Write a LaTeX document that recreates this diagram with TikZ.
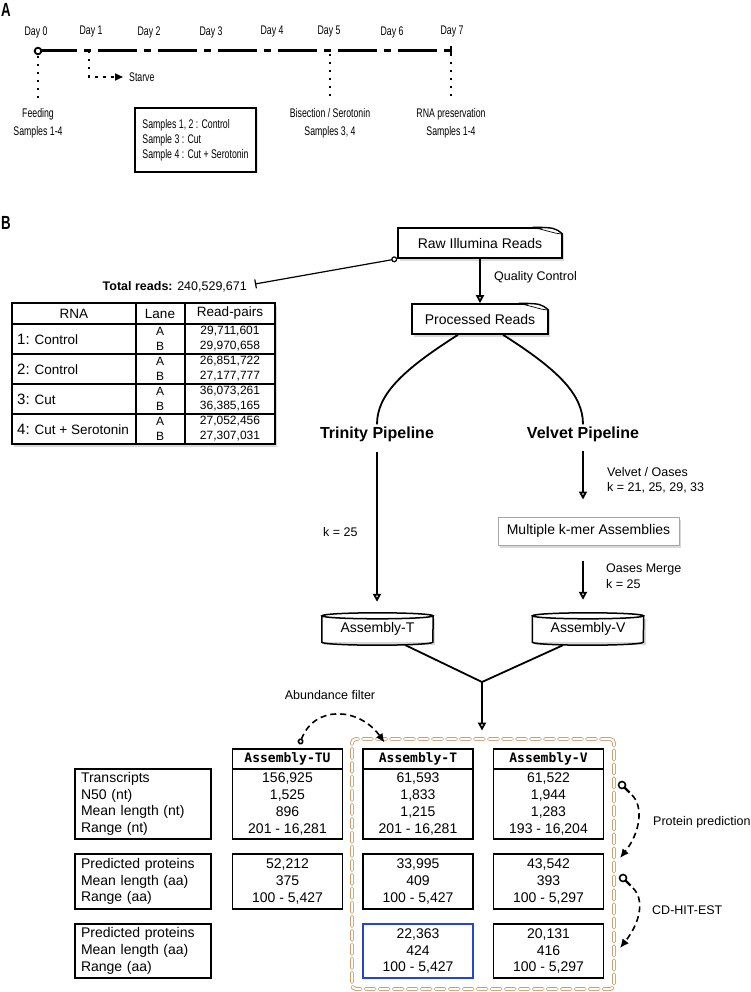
\documentclass[tikz,border=0pt]{standalone}
\usepackage{fontspec}
\setmainfont{Liberation Sans}
\newfontfamily\narrowfont[FakeStretch=0.7]{Liberation Sans}
\newfontfamily\asmfont{DejaVu Sans Mono}
\usetikzlibrary{arrows.meta,shadows,calc}
\definecolor{tanline}{RGB}{198,160,110}
\definecolor{pickblue}{RGB}{35,70,205}
\tikzset{
  paneltag/.style={font=\narrowfont\bfseries\fontsize{19}{19}\selectfont, anchor=west, inner sep=0pt},
  daytxt/.style={font=\narrowfont\fontsize{12.5}{18}\selectfont, align=center, inner sep=0pt},
  annot/.style={font=\fontsize{12.5}{15.5}\selectfont, align=left, inner sep=0pt},
  softshadow/.style={drop shadow={opacity=.3, shadow xshift=2pt, shadow yshift=-3pt}},
  docbox/.style={draw, line width=1.6pt, fill=white, minimum height=30pt, font=\fontsize{14}{16}\selectfont, softshadow},
  samplebox/.style={draw, line width=2pt, fill=white, minimum width=121pt, minimum height=64pt, align=left, inner sep=0pt, font=\narrowfont\fontsize{12.5}{15}\selectfont, drop shadow={opacity=.2, shadow xshift=1.5pt, shadow yshift=-1.5pt}},
  timeline/.style={line width=3pt, dash pattern=on 39pt off 7pt on 7pt off 7pt},
  dotline/.style={line width=1.6pt, dash pattern=on 2.5pt off 5.5pt},
  flow/.style={line width=1.8pt, -{Triangle[open, length=8pt, width=8pt]}},
  conn/.style={line width=1.8pt},
  dconn/.style={line width=1.6pt, dash pattern=on 6pt off 4pt},
  pipe/.style={font=\bfseries\fontsize{16}{16}\selectfont, inner sep=2pt},
  cyl/.style={fill=white, minimum width=111pt, minimum height=26pt, inner sep=0pt, font=\fontsize{14}{16}\selectfont, softshadow},
  kmerbox/.style={draw=gray!70, line width=1pt, fill=white, minimum width=181pt, minimum height=28pt, font=\fontsize{14}{16}\selectfont, softshadow},
  tablebox/.style={draw, line width=1.8pt, fill=white, minimum width=263pt, minimum height=141pt, softshadow},
  tblhead/.style={font=\fontsize{13.5}{14}\selectfont, inner sep=0pt},
  tbllbl/.style={font=\fontsize{13.5}{14}\selectfont, inner sep=0pt, anchor=west},
  tblnum/.style={font=\fontsize{12}{12}\selectfont, inner sep=0pt},
  grpbox/.style={draw=tanline, double=white, double distance=2pt, line width=0.9pt, line cap=round, dash pattern=on 9pt off 5pt, rounded corners=4pt, minimum width=262pt, minimum height=250pt},
  hdr/.style={draw, line width=1.5pt, minimum width=110pt, minimum height=20pt, inner sep=0pt, font=\asmfont\bfseries\fontsize{13}{13}\selectfont},
  lblbox/.style={draw, line width=1.5pt, text width=124pt, inner xsep=6pt, inner ysep=0pt, align=left, font=\fontsize{14}{16.7}\selectfont},
  statbox/.style={draw, line width=1.5pt, minimum width=110pt, inner sep=0pt, align=center, font=\fontsize{14}{16.7}\selectfont}
}
\newcommand\dogear[1]{%
  \fill[white] ([xshift=-30pt,yshift=1pt]#1.north east) -- ([xshift=1.2pt,yshift=1pt]#1.north east) -- ([xshift=1.2pt,yshift=-7pt]#1.north east) -- cycle;
  \draw[line width=1.4pt] ([xshift=-30pt]#1.north east) .. controls ([xshift=-8pt,yshift=-0.5pt]#1.north east) .. ([yshift=-7pt]#1.north east);
  \draw[line width=0.7pt] ([xshift=-30pt]#1.north east) -- ([xshift=-7pt,yshift=-6pt]#1.north east) -- ([yshift=-7pt]#1.north east);}
\newcommand\cylrim[1]{%
  \draw[line width=1.5pt] (#1.north west) -- (#1.south west) arc[start angle=180, end angle=360, x radius=55.5pt, y radius=3pt] -- (#1.north east);
  \draw[line width=1.5pt] (#1.north) ellipse [x radius=55.5pt, y radius=3pt];}
\begin{document}
\begin{tikzpicture}[x=1pt,y=-1pt]
\useasboundingbox (0,0) rectangle (750,992);
\node[paneltag] (tagA) at (1,10) {A};
\foreach \d/\x in {0/36,1/91,2/149,3/211,4/272,5/329,6/392,7/452}
  \node[daytxt] (day\d) at (\x,32) {Day \d};
\coordinate (t0) at (38,51);
\coordinate (t1) at (89,51);
\coordinate (t5) at (330,51);
\coordinate (t7) at (451,51);
\draw[timeline] (t0) -- (t7);
\draw[line width=2pt] ($(t7)+(0,-5)$) -- ($(t7)+(0,5)$);
\draw[line width=1.8pt, fill=white] (t0) circle (3.3pt);
\node[daytxt] (feed) at (38,123) {Feeding\\Samples 1-4};
\node[daytxt] (bisect) at (330,123) {Bisection / Serotonin\\Samples 3, 4};
\node[daytxt] (rnapres) at (451,123) {RNA preservation\\Samples 1-4};
\draw[dotline, shorten <=5pt, shorten >=8pt] (t0) -- (t0 |- feed.north);
\draw[dotline, shorten <=3pt, shorten >=8pt] (t5) -- (t5 |- bisect.north);
\draw[dotline, shorten <=3pt, shorten >=8pt] (t7) -- (t7 |- rnapres.north);
\node[daytxt, anchor=west] (starve) at (129,77) {Starve};
\draw[dotline, -{Triangle[length=8pt, width=7pt]}, shorten >=6pt] (t1) |- (starve.west);
\node[samplebox] (smp) at (195.5,140) {Samples 1, 2 : Control\\Sample 3 : Cut\\Sample 4 : Cut + Serotonin};

\node[paneltag] (tagB) at (1,223) {B};
\node[docbox, minimum width=164pt] (raw) at (480,243) {Raw Illumina Reads};
\dogear{raw}
\node[docbox, minimum width=136pt] (proc) at (480,319) {Processed Reads};
\dogear{proc}
\draw[flow] (raw) -- (proc);
\node[annot, anchor=west] (qc) at (494,277) {Quality Control};
\node[annot, anchor=east] (tot) at (247,287) {\textbf{Total reads:} 240,529,671};
\coordinate (totend) at (255,284);
\draw[line width=1.2pt, {Circle[open, length=6pt]}-{Bar[width=9pt]}] (raw.south west) -- (totend);

\node[tablebox] (tbl) at (143.5,373.5) {};
\foreach \x in {136,185} \draw[line width=1.4pt] (\x,303) -- (\x,444);
\foreach \y in {354,384,414} \draw[line width=1.2pt] (12,\y) -- (275,\y);
\draw[line width=1.8pt] (12,324) -- (275,324);
\node[tblhead] (hrna) at (74,313.5) {RNA};
\node[tblhead] (hlane) at (160,313.5) {Lane};
\node[tblhead] (hpairs) at (230,313.5) {Read-pairs};
\foreach \i/\what/\ra/\rb in {1/Control/{29,711,601}/{29,970,658}, 2/Control/{26,851,722}/{27,177,777}, 3/Cut/{36,073,261}/{36,385,165}, 4/Cut + Serotonin/{27,052,456}/{27,307,031}}
{
  \node[tbllbl] (rna\i) at (17,{309+30*\i}) {{\fontsize{15}{15}\selectfont\i:} \what};
  \node[tblnum] (lna\i) at (160,{301+30*\i}) {A};
  \node[tblnum] (lnb\i) at (160,{316+30*\i}) {B};
  \node[tblnum] (rpa\i) at (230,{301+30*\i}) {\ra};
  \node[tblnum] (rpb\i) at (230,{316+30*\i}) {\rb};
}

\node[pipe] (trin) at (377,434) {Trinity Pipeline};
\node[pipe] (velv) at (583,434) {Velvet Pipeline};
\draw[conn] ([xshift=-22pt]proc.south) .. controls +(-55,35) and +(0,-30) .. (trin.north);
\draw[conn] ([xshift=23pt]proc.south) .. controls +(55,35) and +(0,-30) .. (velv.north);
\node[cyl] (asmT) at (377.5,629) {Assembly-T};
\cylrim{asmT}
\node[cyl] (asmV) at (588,629) {Assembly-V};
\cylrim{asmV}
\node[kmerbox] (kmer) at (588.5,531) {Multiple k-mer Assemblies};
\draw[flow, shorten <=8pt, shorten >=14pt] (trin) -- (trin |- asmT.north);
\node[annot, anchor=west] (ktrin) at (323,532) {k = 25};
\draw[flow, shorten <=7pt, shorten >=17pt] (velv) -- (velv |- kmer.north);
\draw[flow, shorten <=15pt, shorten >=16pt] (velv |- kmer.south) -- (velv |- asmV.north);
\node[annot, anchor=west] (voases) at (607,480.5) {Velvet / Oases\\k = 21, 25, 29, 33};
\node[annot, anchor=west] (omerge) at (606,576) {Oases Merge\\k = 25};

\node[grpbox] (grp) at (483,864) {};
\coordinate (jn) at (482,682);
\draw[conn] ([xshift=28pt,yshift=-3pt]asmT.south) -- (jn);
\draw[conn] ([xshift=-25pt,yshift=-3pt]asmV.south) -- (jn);
\draw[flow, shorten >=8pt] (jn) -- (jn |- grp.north);

\node[hdr] (hTU) at (287.5,759) {Assembly-TU};
\node[hdr] (hT) at (418,759) {Assembly-T};
\node[hdr] (hV) at (548.5,759) {Assembly-V};
\node[lblbox, minimum height=70pt] (lab1) at (143,804) {Transcripts\\N50 (nt)\\Mean length (nt)\\Range (nt)};
\node[statbox, minimum height=70pt] (tu1) at (287.5,804) {156,925\\1,525\\896\\201 - 16,281};
\node[statbox, minimum height=70pt] (tt1) at (418,804) {61,593\\1,833\\1,215\\201 - 16,281};
\node[statbox, minimum height=70pt] (tv1) at (548.5,804) {61,522\\1,944\\1,283\\193 - 16,204};
\node[lblbox, minimum height=55pt] (lab2) at (143,881.5) {Predicted proteins\\Mean length (aa)\\Range (aa)};
\node[statbox, minimum height=55pt] (tu2) at (287.5,881.5) {52,212\\375\\100 - 5,427};
\node[statbox, minimum height=55pt] (tt2) at (418,881.5) {33,995\\409\\100 - 5,427};
\node[statbox, minimum height=55pt] (tv2) at (548.5,881.5) {43,542\\393\\100 - 5,297};
\node[lblbox, minimum height=54pt] (lab3) at (143,951) {Predicted proteins\\Mean length (aa)\\Range (aa)};
\node[statbox, draw=pickblue, minimum height=54pt] (tt3) at (418,951) {22,363\\424\\100 - 5,427};
\node[statbox, minimum height=54pt] (tv3) at (548.5,951) {20,131\\416\\100 - 5,297};

\node[annot] (abund) at (330,695) {Abundance filter};
\draw[dconn, {Circle[open, length=6pt]}-{Latex[length=9pt, width=8pt]}] ([xshift=12pt,yshift=4pt]hTU.north) .. controls +(15,-40) and +(-25,-35) .. ([xshift=33pt,yshift=-4pt]grp.north west);

\coordinate (pp) at (622,785);
\coordinate (ppend) at (620,858);
\coordinate (cd) at (623,878);
\coordinate (cdend) at (620,948);
\foreach \m in {pp,cd} {
  \draw[line width=1.6pt] (\m) circle (3.5pt);
  \draw[line width=2.2pt] ($(\m)+(2.5,2.5)$) -- ($(\m)+(7.5,7.5)$);
}
\draw[dconn, -{Latex[length=9pt, width=8pt]}] ($(pp)+(10,10)$) .. controls +(12,12) and +(20,-25) .. (ppend);
\draw[dconn, -{Latex[length=9pt, width=8pt]}] ($(cd)+(10,10)$) .. controls +(12,12) and +(20,-25) .. (cdend);
\node[annot, anchor=west] (protpred) at (653,822) {Protein prediction};
\node[annot, anchor=west] (cdhit) at (652,910) {CD-HIT-EST};
\end{tikzpicture}
\end{document}
